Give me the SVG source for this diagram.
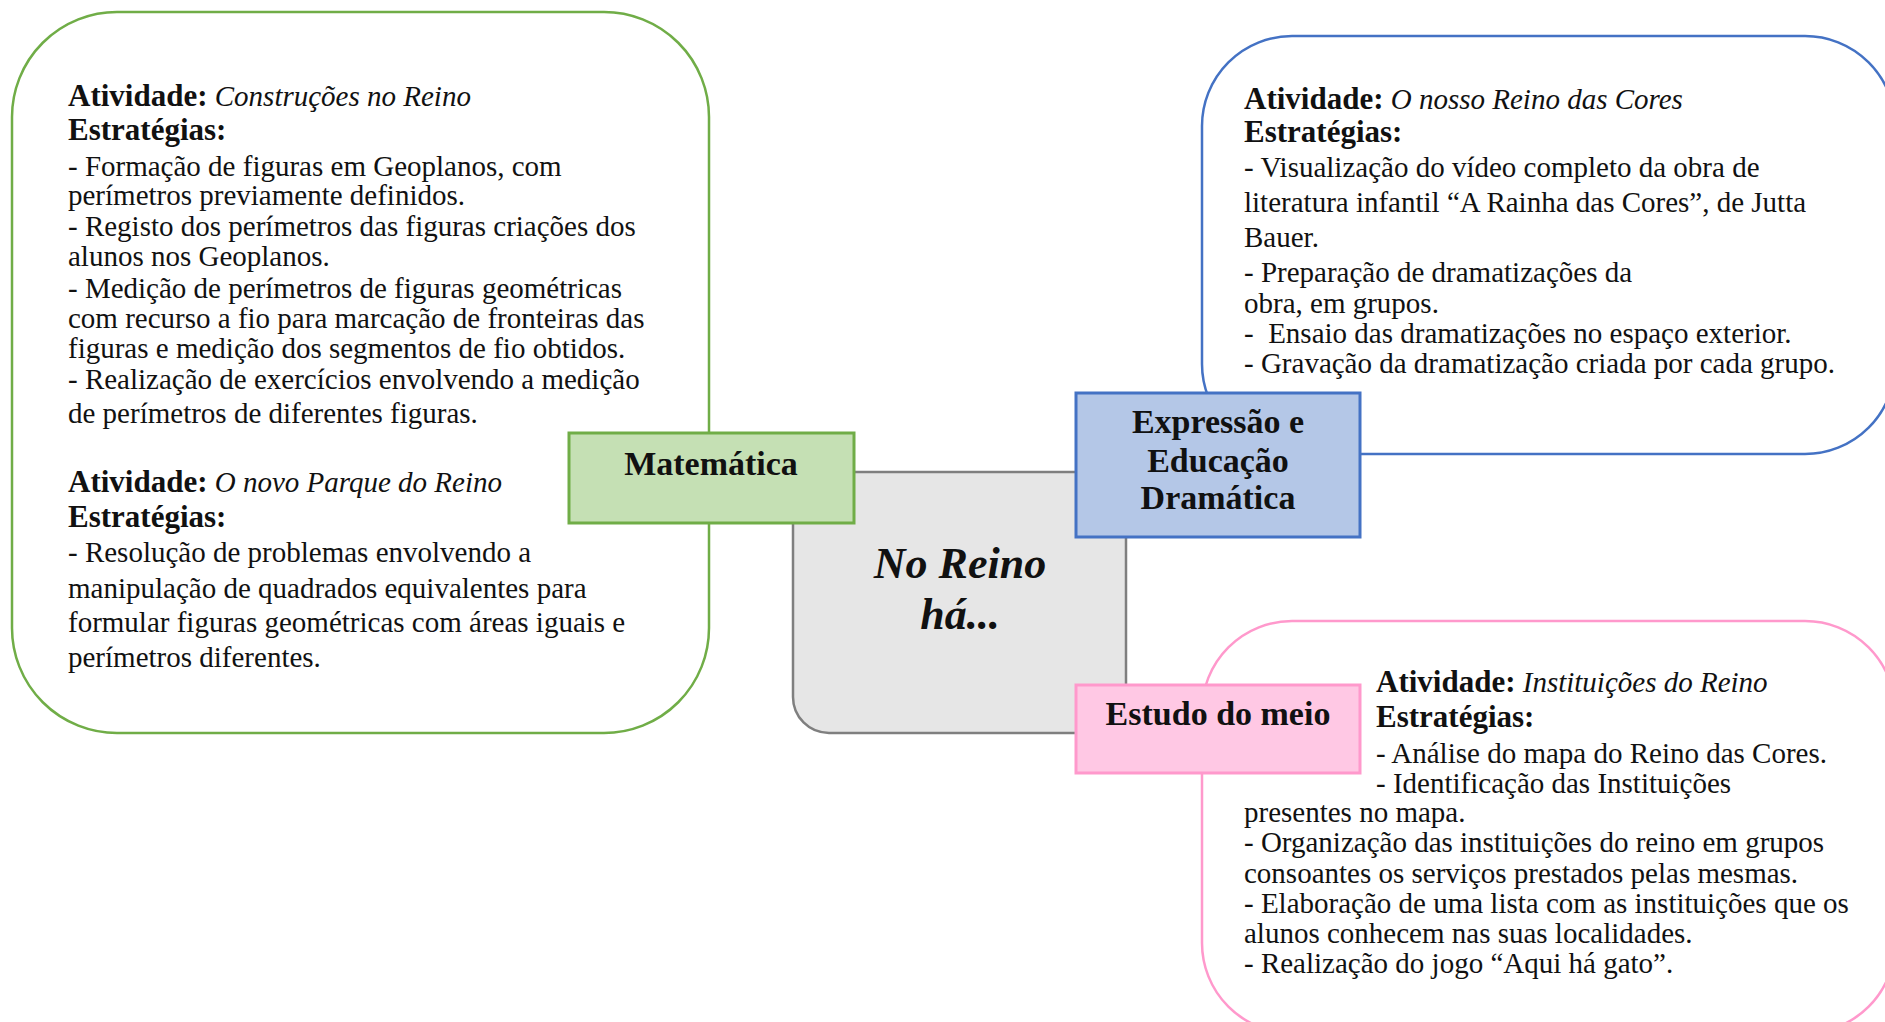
<svg xmlns="http://www.w3.org/2000/svg" width="1885" height="1022" viewBox="0 0 1885 1022">
<style>
.t{font-family:"Liberation Serif","DejaVu Serif",serif;font-size:29px;fill:#111}
.b{font-weight:bold;font-size:31px}
.i{font-style:italic}
.lbl{font-family:"Liberation Serif","DejaVu Serif",serif;font-size:34px;font-weight:bold;fill:#111;text-anchor:middle}
.ctr{font-family:"Liberation Serif","DejaVu Serif",serif;font-size:44px;font-weight:bold;font-style:italic;fill:#111;text-anchor:middle}
.cont{fill:#fff;stroke-width:2.5}
.node{stroke-width:3}
</style>
<rect width="1885" height="1022" fill="#fff"/>
<g id="connectors"></g>
<g id="mat-content">
<rect class="cont" x="12" y="12" width="697" height="721" rx="105" ry="105" stroke="#70AD47"/>
<text class="t" transform="translate(0,3)"><tspan x="68" y="103"><tspan class="b">Atividade:</tspan> <tspan class="i">Construções no Reino</tspan></tspan><tspan x="68" y="137" class="b">Estratégias:</tspan><tspan x="68" y="173">- Formação de figuras em Geoplanos, com</tspan><tspan x="68" y="202">perímetros previamente definidos.</tspan><tspan x="68" y="233">- Registo dos perímetros das figuras criações dos</tspan><tspan x="68" y="263">alunos nos Geoplanos.</tspan><tspan x="68" y="295">- Medição de perímetros de figuras geométricas</tspan><tspan x="68" y="325">com recurso a fio para marcação de fronteiras das</tspan><tspan x="68" y="355">figuras e medição dos segmentos de fio obtidos.</tspan><tspan x="68" y="386">- Realização de exercícios envolvendo a medição</tspan><tspan x="68" y="420">de perímetros de diferentes figuras.</tspan><tspan x="68" y="489"><tspan class="b">Atividade:</tspan> <tspan class="i">O novo Parque do Reino</tspan></tspan><tspan x="68" y="524" class="b">Estratégias:</tspan><tspan x="68" y="559">- Resolução de problemas envolvendo a</tspan><tspan x="68" y="595">manipulação de quadrados equivalentes para</tspan><tspan x="68" y="629">formular figuras geométricas com áreas iguais e</tspan><tspan x="68" y="664">perímetros diferentes.</tspan></text>
</g>
<g id="exp-content">
<rect class="cont" x="1202" y="36" width="693" height="418" rx="90" ry="90" stroke="#4472C4"/>
<text class="t" transform="translate(0,3)"><tspan x="1244" y="106"><tspan class="b">Atividade:</tspan> <tspan class="i">O nosso Reino das Cores</tspan></tspan><tspan x="1244" y="139" class="b">Estratégias:</tspan><tspan x="1244" y="174">- Visualização do vídeo completo da obra de</tspan><tspan x="1244" y="209">literatura infantil “A Rainha das Cores”, de Jutta</tspan><tspan x="1244" y="244">Bauer.</tspan><tspan x="1244" y="279">- Preparação de dramatizações da</tspan><tspan x="1244" y="310">obra, em grupos.</tspan><tspan x="1244" y="340">-&#160; Ensaio das dramatizações no espaço exterior.</tspan><tspan x="1244" y="370">- Gravação da dramatização criada por cada grupo.</tspan></text>
</g>
<g id="est-content">
<rect class="cont" x="1202" y="621" width="693" height="412" rx="90" ry="90" stroke="#FF99CC"/>
<text class="t" transform="translate(0,3)"><tspan x="1376" y="689"><tspan class="b">Atividade:</tspan> <tspan class="i">Instituições do Reino</tspan></tspan><tspan x="1376" y="724" class="b">Estratégias:</tspan><tspan x="1376" y="760">- Análise do mapa do Reino das Cores.</tspan><tspan x="1376" y="790">- Identificação das Instituições</tspan><tspan x="1244" y="819">presentes no mapa.</tspan><tspan x="1244" y="849">- Organização das instituições do reino em grupos</tspan><tspan x="1244" y="880">consoantes os serviços prestados pelas mesmas.</tspan><tspan x="1244" y="910">- Elaboração de uma lista com as instituições que os</tspan><tspan x="1244" y="940">alunos conhecem nas suas localidades.</tspan><tspan x="1244" y="970">- Realização do jogo “Aqui há gato”.</tspan></text>
</g>
<g id="center">
<rect x="793" y="472" width="333" height="261" rx="36" ry="36" fill="#E6E6E6" stroke="#7F7F7F" stroke-width="2.5"/>
<text class="ctr"><tspan x="960" y="578">No Reino</tspan><tspan x="960" y="629">há...</tspan></text>
</g>
<g id="matematica">
<rect class="node" x="569" y="433" width="285" height="90" fill="#C5E0B4" stroke="#70AD47"/>
<text class="lbl" x="711" y="475">Matemática</text>
</g>
<g id="expressao">
<rect class="node" x="1076" y="393" width="284" height="144" fill="#B4C7E7" stroke="#4472C4"/>
<text class="lbl"><tspan x="1218" y="433">Expressão e</tspan><tspan x="1218" y="472">Educação</tspan><tspan x="1218" y="509">Dramática</tspan></text>
</g>
<g id="estudo">
<rect class="node" x="1076" y="685" width="284" height="88" fill="#FFC8E4" stroke="#FF99CC"/>
<text class="lbl" x="1218" y="725">Estudo do meio</text>
</g>
</svg>
